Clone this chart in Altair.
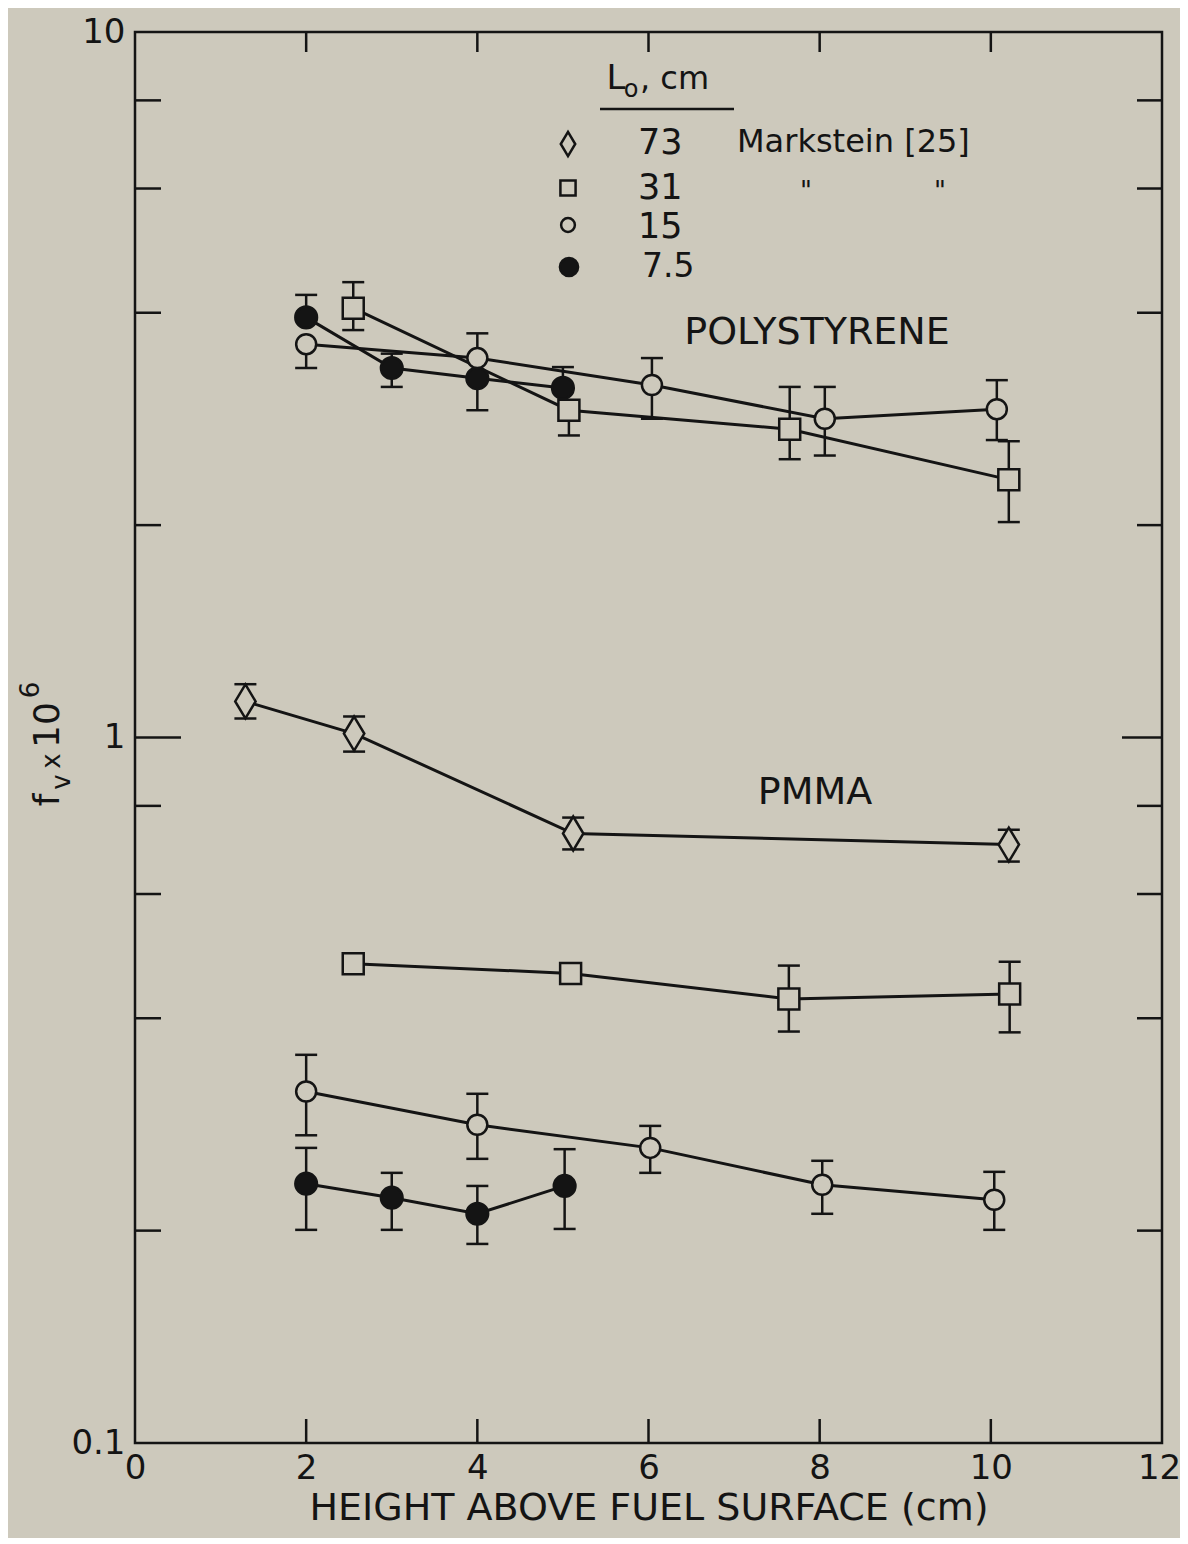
import altair as alt
import pandas as pd

# ---------------- data ----------------
# Polystyrene, L0 = 7.5 cm (filled circles)
ps75_x = [2.0, 3.0, 4.0, 5.0]
ps75_y = [3.94, 3.34, 3.23, 3.13]
ps75_lo = [None, 3.14, 2.91, None]
ps75_hi = [4.24, 3.50, None, 3.35]
# Polystyrene, L0 = 31 cm (squares, Markstein)
ps31_x = [2.55, 5.07, 7.65, 10.21]
ps31_y = [4.06, 2.91, 2.735, 2.32]
ps31_lo = [3.78, 2.68, 2.48, 2.02]
ps31_hi = [4.42, None, 3.14, 2.63]
# Polystyrene, L0 = 15 cm (open circles)
ps15_x = [2.0, 4.0, 6.04, 8.06, 10.07]
ps15_y = [3.61, 3.45, 3.16, 2.83, 2.92]
ps15_lo = [3.34, None, 2.83, 2.51, 2.64]
ps15_hi = [None, 3.74, 3.45, 3.14, 3.21]
# PMMA, L0 = 73 cm (diamonds, Markstein)
pm73_x = [1.29, 2.56, 5.12, 10.21]
pm73_y = [1.125, 1.013, 0.731, 0.705]
pm73_lo = [1.064, 0.955, 0.694, 0.667]
pm73_hi = [1.19, 1.071, 0.770, 0.740]
# PMMA, L0 = 31 cm (squares, Markstein)
pm31_x = [2.55, 5.09, 7.64, 10.22]
pm31_y = [0.478, 0.463, 0.426, 0.433]
pm31_lo = [None, None, 0.383, 0.382]
pm31_hi = [None, None, 0.475, 0.481]
# PMMA, L0 = 15 cm (open circles)
pm15_x = [2.0, 4.0, 6.02, 8.03, 10.04]
pm15_y = [0.315, 0.2825, 0.262, 0.2323, 0.2212]
pm15_lo = [0.273, 0.2528, 0.2415, 0.2113, 0.2005]
pm15_hi = [0.355, 0.3126, 0.2815, 0.2512, 0.2423]
# PMMA, L0 = 7.5 cm (filled circles)
pm75_x = [2.0, 3.0, 4.0, 5.02]
pm75_y = [0.2331, 0.2227, 0.2113, 0.2314]
pm75_lo = [0.2005, 0.2005, 0.1915, 0.2011]
pm75_hi = [0.262, 0.2415, 0.2314, 0.2609]

x_tick_labels = [0, 2, 4, 6, 8, 10, 12]
x_inner_ticks = [2, 4, 6, 8, 10]
y_labels = [0.1, 1, 10]
y_minor_ticks = [0.2, 0.4, 0.6, 0.8, 2, 4, 6, 8]
y_major_ticks = [1]

legend_values = ["73", "31", "15", "7.5"]

# ---------------- styling ----------------
BG = "#cdc9bc"
INK = "#141414"
FONT = "DejaVu Sans"
W, H = 1027, 1411
OX, OY = 135, 32  # page position of plot origin

series = [
    ("ps75", "filled", ps75_x, ps75_y, ps75_lo, ps75_hi),
    ("ps31", "square", ps31_x, ps31_y, ps31_lo, ps31_hi),
    ("ps15", "open", ps15_x, ps15_y, ps15_lo, ps15_hi),
    ("pm73", "diamond", pm73_x, pm73_y, pm73_lo, pm73_hi),
    ("pm31", "square", pm31_x, pm31_y, pm31_lo, pm31_hi),
    ("pm15", "open", pm15_x, pm15_y, pm15_lo, pm15_hi),
    ("pm75", "filled", pm75_x, pm75_y, pm75_lo, pm75_hi),
]

pts, errs, caps = [], [], []
for name, kind, xs, ys, los, his in series:
    for x, y, lo, hi in zip(xs, ys, los, his):
        pts.append({"x": x, "y": y, "g": name, "kind": kind})
        if lo is not None or hi is not None:
            errs.append({"x": x, "y": lo if lo is not None else y,
                         "y2": hi if hi is not None else y})
        for c in (lo, hi):
            if c is not None:
                caps.append({"x": x, "y": c})

pts = pd.DataFrame(pts)
errs = pd.DataFrame(errs)
caps = pd.DataFrame(caps)

xs_ = alt.Scale(domain=[0, 12], nice=False, zero=False)
ys_ = alt.Scale(type="log", domain=[0.1, 10], nice=False)

xaxis = alt.Axis(values=x_tick_labels, ticks=False, domain=False, grid=False,
                 labelFontSize=34, labelFont=FONT, labelColor=INK, labelPadding=8,
                 labelFlush=False,
                 labelOffset={"condition": {"test": "datum.value == 12", "value": -3},
                              "value": 0},
                 title="HEIGHT ABOVE FUEL SURFACE (cm)",
                 titleFontSize=38, titleFont=FONT, titleFontWeight="normal",
                 titleColor=INK, titlePadding=4)
yaxis = alt.Axis(values=y_labels, ticks=False, domain=False, grid=False,
                 labelFontSize=34, labelFont=FONT, labelColor=INK, labelPadding=10,
                 labelFlush=False, title=None,
                 labelExpr="datum.value < 0.5 ? '0.1' : (datum.value < 5 ? '1' : '10')")

X = alt.X("x:Q", scale=xs_, axis=xaxis)
Y = alt.Y("y:Q", scale=ys_, axis=yaxis)

lines = alt.Chart(pts).mark_line(color=INK, strokeWidth=3).encode(
    x=X, y=Y, detail="g:N", order="x:Q")
err_rules = alt.Chart(errs).mark_rule(color=INK, strokeWidth=2.5).encode(
    x=X, y=Y, y2="y2:Q")
err_caps = alt.Chart(caps).mark_tick(color=INK, thickness=2.5, size=22,
                                      orient="horizontal", opacity=1).encode(x=X, y=Y)

DIAMOND = "M0,-1L0.6,0L0,1L-0.6,0Z"


def pts_layer(kind, shape, size, fill):
    return alt.Chart(pts).transform_filter(alt.datum.kind == kind).mark_point(
        shape=shape, size=size, fill=fill, stroke=INK, strokeWidth=2.5,
        opacity=1, fillOpacity=1, strokeOpacity=1).encode(x=X, y=Y)


p_filled = pts_layer("filled", "circle", 470, INK)
p_open = pts_layer("open", "circle", 400, BG)
p_square = pts_layer("square", "square", 440, BG)
p_diamond = pts_layer("diamond", DIAMOND, 1156, BG)


# inward ticks on all four sides
def y_ticks(vals, length, right=False):
    d = pd.DataFrame({"y": vals})
    if right:
        enc = dict(x=alt.value(W), x2=alt.value(W - length))
    else:
        enc = dict(x=alt.value(0), x2=alt.value(length))
    return alt.Chart(d).mark_rule(color=INK, strokeWidth=2.5).encode(y=Y, **enc)


def x_ticks(vals, length, top=False):
    d = pd.DataFrame({"x": vals})
    if top:
        enc = dict(y=alt.value(0), y2=alt.value(length))
    else:
        enc = dict(y=alt.value(H), y2=alt.value(H - length))
    return alt.Chart(d).mark_rule(color=INK, strokeWidth=2.5).encode(x=X, **enc)


ticks = [
    y_ticks(y_minor_ticks, 26), y_ticks(y_major_ticks, 46),
    y_ticks(y_minor_ticks, 25, right=True), y_ticks(y_major_ticks, 40, right=True),
    x_ticks(x_inner_ticks, 20, top=True), x_ticks(x_inner_ticks, 24),
]

one = pd.DataFrame({"a": [0]})


def label(txt, px, py, size=34, align="center", baseline="middle", angle=0):
    return alt.Chart(one).mark_text(
        text=txt, fontSize=size, align=align, baseline=baseline, angle=angle,
        font=FONT, color=INK).encode(x=alt.value(px - OX), y=alt.value(py - OY))


def sym(shape, px, py, size, fill):
    return alt.Chart(one).mark_point(
        shape=shape, size=size, fill=fill, stroke=INK, strokeWidth=2.5,
        opacity=1, fillOpacity=1).encode(x=alt.value(px - OX), y=alt.value(py - OY))


annot = [
    # legend header
    label("L", 616, 79, 34),
    label("o", 631, 90, 24),
    label(", cm", 640, 79, 32, align="left"),
    alt.Chart(one).mark_rule(color=INK, strokeWidth=2.5).encode(
        x=alt.value(600 - OX), x2=alt.value(734 - OX), y=alt.value(109 - OY)),
    # legend rows
    sym(DIAMOND, 568, 144, 580, BG),
    sym("square", 568, 188, 230, BG),
    sym("circle", 568, 225, 190, BG),
    sym("circle", 569, 267, 330, INK),
    label(legend_values[0], 638, 143, 35, align="left"),
    label(legend_values[1], 638, 188, 35, align="left"),
    label(legend_values[2], 638, 227, 35, align="left"),
    label(legend_values[3], 642, 267, 33, align="left"),
    label("Markstein [25]", 737, 142, 32, align="left"),
    label('"', 806, 192, 26, baseline="middle"),
    label('"', 940, 192, 26, baseline="middle"),
    # material labels
    label("POLYSTYRENE", 817, 333, 38),
    label("PMMA", 815, 793, 38),
    # y-axis title  f_v x 10^6 (rotated)
    label("f", 48, 800, 36, angle=270),
    label("v", 62, 782, 26, angle=270),
    label("x", 52, 761, 26, angle=270),
    label("10", 48, 725, 36, angle=270),
    label("6", 31, 690, 26, angle=270),
]

chart = alt.layer(
    lines, err_rules, err_caps, p_filled, p_open, p_square, p_diamond,
    *ticks, *annot
).properties(
    width=W, height=H,
    autosize=alt.AutoSizeParams(type="none"),
    padding={"left": OX - 8, "top": OY - 8, "right": 18, "bottom": 95},
).configure(background=BG).configure_view(stroke=INK, strokeWidth=2.5, fill=BG)

chart.save("out.html", embed_options={"renderer": "svg", "actions": False})
